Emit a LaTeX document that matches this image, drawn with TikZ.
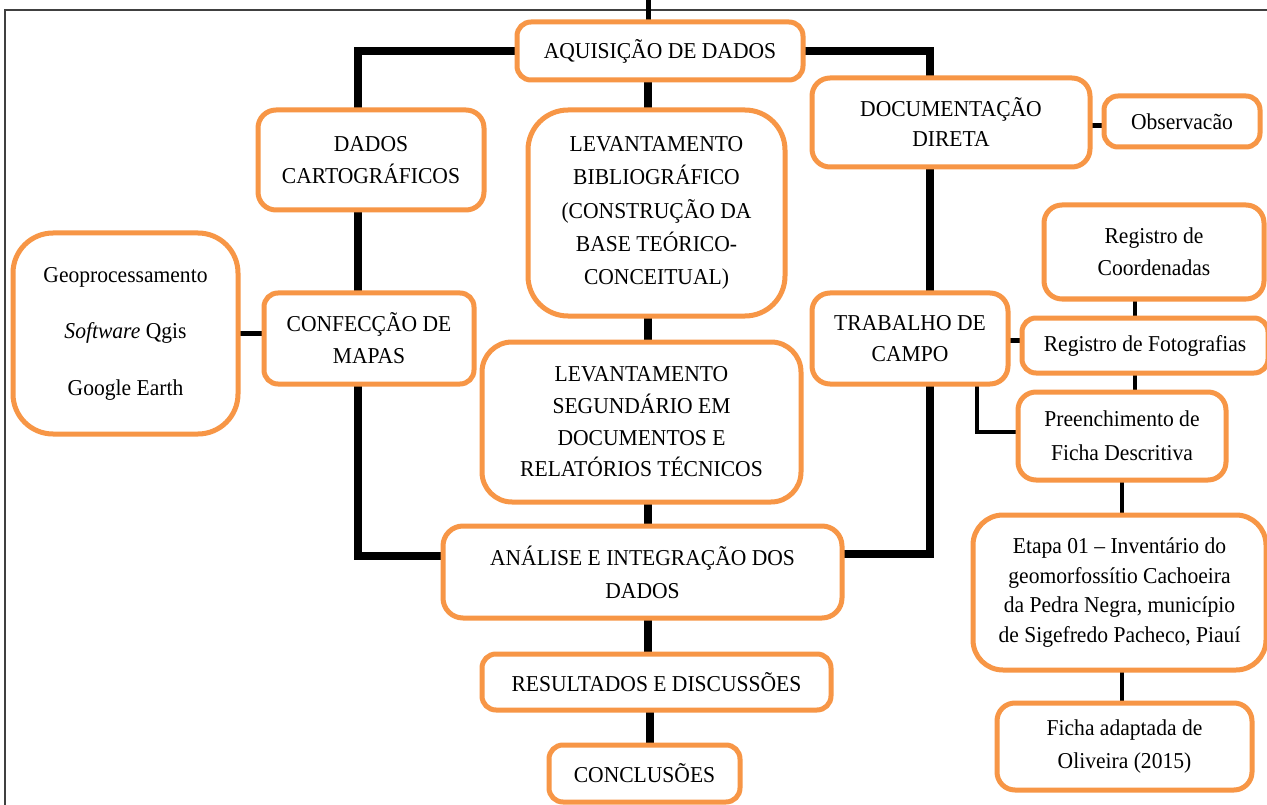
\documentclass[tikz,border=0pt]{standalone}
\usepackage{fontspec}
\usetikzlibrary{backgrounds}
\newfontfamily\mainf[FakeStretch=0.95]{Liberation Serif}
\definecolor{orangeC}{HTML}{F79646}
\definecolor{frameC}{HTML}{404040}
\tikzset{
  box/.style={draw=orangeC, line width=5pt, rounded corners=14pt, fill=white,
    align=center, inner sep=0pt, outer sep=0pt,
    font=\mainf\fontsize{22.7}{32}\selectfont},
  thickc/.style={line width=8pt, black},
  medc/.style={line width=5pt, black},
  thinc/.style={line width=4pt, black},
  framec/.style={line width=1.5pt, frameC},
}
\begin{document}
\begin{tikzpicture}[x=1pt,y=-1pt]
\useasboundingbox (0,0) rectangle (1267,805);

% nodes
\node[box, minimum width=286pt, minimum height=58pt] (aq) at (660,51) {AQUISIÇÃO DE DADOS};
\node[box, minimum width=226pt, minimum height=100pt, rounded corners=18pt] (dc) at (371,160) {DADOS\\CARTOGRÁFICOS};
\node[box, minimum width=210pt, minimum height=91pt] (cm) at (369,338.5) {CONFECÇÃO DE\\MAPAS};
\node[box, minimum width=225pt, minimum height=201pt, rounded corners=40pt,
  font=\mainf\fontsize{22.7}{56.5}\selectfont] (geo) at (125.5,333.5) {Geoprocessamento\\{\itshape Software} Qgis\\Google Earth};
\node[box, minimum width=257pt, minimum height=206pt, rounded corners=40pt,
  font=\mainf\fontsize{22.7}{33.25}\selectfont] (lb) at (656.5,213) {LEVANTAMENTO\\BIBLIOGRÁFICO\\(CONSTRUÇÃO DA\\BASE TEÓRICO-\\CONCEITUAL)};
\node[box, minimum width=319pt, minimum height=160pt, rounded corners=30pt,
  font=\mainf\fontsize{22.7}{31.7}\selectfont] (ls) at (641.5,422) {LEVANTAMENTO\\SEGUNDÁRIO EM\\DOCUMENTOS E\\RELATÓRIOS TÉCNICOS};
\node[box, minimum width=399pt, minimum height=92pt, rounded corners=20pt,
  font=\mainf\fontsize{22.7}{33}\selectfont] (an) at (642.5,572) {ANÁLISE E INTEGRAÇÃO DOS\\DADOS};
\node[box, minimum width=349pt, minimum height=56pt] (rd) at (656.5,682) {RESULTADOS E DISCUSSÕES};
\node[box, minimum width=191pt, minimum height=57pt] (co) at (644.5,773.5) {CONCLUSÕES};
\node[box, minimum width=278pt, minimum height=89pt, rounded corners=18pt,
  font=\mainf\fontsize{22.7}{30}\selectfont] (doc) at (951,122.5) {DOCUMENTAÇÃO\\DIRETA};
\node[box, minimum width=156pt, minimum height=51pt] (obs) at (1182,121.5) {Observacão};
\node[box, minimum width=196pt, minimum height=91pt, rounded corners=18pt,
  font=\mainf\fontsize{22.7}{31}\selectfont] (tc) at (910,338.5) {TRABALHO DE\\CAMPO};
\node[box, minimum width=220pt, minimum height=94pt, rounded corners=18pt] (rc) at (1154,252) {Registro de\\Coordenadas};
\node[box, minimum width=246pt, minimum height=55pt] (rf) at (1145,345.5) {Registro de Fotografias};
\node[box, minimum width=208pt, minimum height=88pt, rounded corners=18pt,
  font=\mainf\fontsize{22.7}{34}\selectfont] (pf) at (1122,436) {Preenchimento de\\Ficha Descritiva};
\node[box, minimum width=293pt, minimum height=155pt, rounded corners=30pt,
  font=\mainf\fontsize{22.7}{29.5}\selectfont] (et) at (1119.5,592.5) {Etapa 01 – Inventário do\\geomorfossítio Cachoeira\\da Pedra Negra, município\\de Sigefredo Pacheco, Piauí};
\node[box, minimum width=255pt, minimum height=87pt, rounded corners=18pt,
  font=\mainf\fontsize{22.7}{33}\selectfont] (fa) at (1124.5,746.5) {Ficha adaptada de\\Oliveira (2015)};

\coordinate (topend) at (648,0);

\begin{pgfonlayer}{background}
  \fill[white] (0,0) rectangle (1267,805);
  \draw[framec] (5,805) -- (5,10) -- (1267,10);
  \draw[medc] (topend) -- (topend |- aq.north);
  \draw[thickc] (aq.west) -| ([xshift=-13pt]dc.north);
  \draw[thickc] (aq.east) -| ([xshift=-21pt]doc.north);
  \draw[thickc] ([xshift=-12pt]aq.south) -- ([xshift=-12pt]aq.south |- lb.north);
  \draw[thickc] ([xshift=-13pt]dc.south) -- ([xshift=-13pt]dc.south |- cm.north);
  \draw[medc] (geo.east) -- (geo.east -| cm.west);
  \draw[thickc] ([xshift=-11pt]cm.south) |- ([yshift=16pt]an.west);
  \draw[thickc] ([xshift=-8.5pt]lb.south) -- ([xshift=-8.5pt]lb.south |- ls.north);
  \draw[thickc] ([xshift=6.5pt]ls.south) -- ([xshift=6.5pt]ls.south |- an.north);
  \draw[thickc] ([xshift=5.5pt]an.south) -- ([xshift=5.5pt]an.south |- rd.north);
  \draw[thickc] ([xshift=-6.5pt]rd.south) -- ([xshift=-6.5pt]rd.south |- co.north);
  \draw[medc] ([yshift=-3pt]doc.east) -- ([yshift=-3pt]doc.east -| obs.west);
  \draw[thickc] ([xshift=-21pt]doc.south) -- ([xshift=-21pt]doc.south |- tc.north);
  \draw[thickc] ([xshift=20pt]tc.south) |- ([yshift=18pt]an.east);
  \draw[medc] ([yshift=-2pt]tc.east) -- ([yshift=-2pt]tc.east -| rf.west);
  \draw[thinc] ([xshift=-19pt]rc.south) -- ([xshift=-19pt]rc.south |- rf.north);
  \draw[thinc] ([xshift=-10pt]rf.south) -- ([xshift=-10pt]rf.south |- pf.north);
  \draw[thinc] ([xshift=67pt]tc.south) |- ([yshift=4pt]pf.west);
  \draw[thinc] (pf.south) -- (pf.south |- et.north);
  \draw[thinc] ([xshift=2.5pt]et.south) -- ([xshift=2.5pt]et.south |- fa.north);
\end{pgfonlayer}
\end{tikzpicture}
\end{document}
